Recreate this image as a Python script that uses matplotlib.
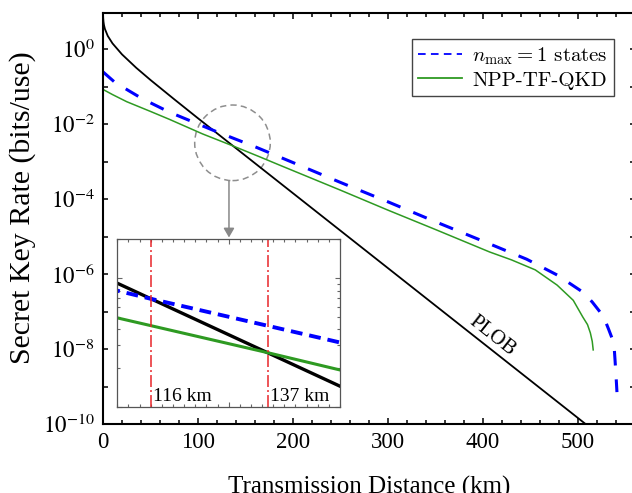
import matplotlib
matplotlib.use("Agg")
import numpy as np
import matplotlib.pyplot as plt
from matplotlib.lines import Line2D
from matplotlib.patches import Circle
from matplotlib.transforms import ScaledTranslation
from matplotlib.ticker import FixedLocator, MultipleLocator, NullLocator, NullFormatter, LogLocator

plt.rcParams["font.family"] = ["Liberation Serif", "DejaVu Serif"]
plt.rcParams["mathtext.fontset"] = "stix"
plt.rcParams["lines.scale_dashes"] = False

# values: distance (km), key rate (bits/use)
plob_km = [0.05, 0.2, 0.5, 1, 2, 5, 10, 20, 35, 50, 75, 100, 150, 200, 300, 400, 500, 530]
plob_rate = [8.76, 6.77, 5.46, 4.47, 3.51, 2.28, 1.44, 0.733, 0.321, 0.152, 4.64e-2,
             1.445e-2, 1.443e-3, 1.443e-4, 1.443e-6, 1.443e-8, 1.443e-10, 3.6e-11]

nmax1_km = [0, 12, 27, 42, 70, 116, 161, 200, 250, 300, 350, 400, 446, 478, 506,
            515, 522, 527, 532, 536, 538, 539, 540, 540.5, 541]
nmax1_rate = [2.5e-1, 1.35e-1, 7.9e-2, 4.7e-2, 2.1e-2, 6.9e-3, 2.45e-3, 9.5e-4, 2.8e-4,
              8.5e-5, 2.5e-5, 7.6e-6, 2.5e-6, 9.5e-7, 3.2e-7, 1.8e-7, 1.07e-7, 7.2e-8,
              3.5e-8, 1.9e-8, 1.2e-8, 5.0e-9, 2.0e-9, 1.2e-9, 7.1e-10]

npp_km = [0, 10, 25, 50, 70, 105, 137, 165, 186, 250, 300, 350, 407, 430, 455, 478, 495,
          505, 510, 513, 515, 516]
npp_rate = [8.5e-2, 6.2e-2, 4.0e-2, 2.2e-2, 1.35e-2, 5.5e-3, 2.63e-3, 1.35e-3, 8.1e-4,
            1.74e-4, 5.1e-5, 1.55e-5, 3.9e-6, 2.4e-6, 1.3e-6, 5.1e-7, 2.0e-7, 7.2e-8,
            4.5e-8, 2.7e-8, 1.6e-8, 9.5e-9]

cross_km = [116, 137]
cross_labels = ["116 km", "137 km"]

x_ticks = [0, 100, 200, 300, 400, 500]
y_ticks = [1e-10, 1e-9, 1e-8, 1e-7, 1e-6, 1e-5, 1e-4, 1e-3, 1e-2, 1e-1, 1e0]
y_tick_labels = [r"$10^{-10}$", "", r"$10^{-8}$", "", r"$10^{-6}$", "", r"$10^{-4}$", "",
                 r"$10^{-2}$", "", r"$10^{0}$"]

legend_labels = [r"$n_{\mathrm{max}} = 1$ states", "NPP-TF-QKD"]

GREEN = "#2e9a22"
RED = "#e8262a"
W, H = 632, 493


def main():
    fig = plt.figure(figsize=(W / 100, H / 100), dpi=100)
    ax = fig.add_axes([103 / W, (H - 424) / H, 532 / W, 411.3 / H])

    ax.plot(plob_km, plob_rate, color="black", lw=1.3)
    ax.plot(nmax1_km, nmax1_rate, color="blue", lw=2.2, dashes=(10.5, 10))
    ax.plot(npp_km, npp_rate, color=GREEN, lw=1.1)

    ax.set_yscale("log")
    ax.set_xlim(0, 560)
    ax.set_ylim(1e-10, 9.5)
    ax.set_xticks(x_ticks)
    ax.xaxis.set_minor_locator(MultipleLocator(20))
    ax.yaxis.set_major_locator(FixedLocator(y_ticks))
    ax.set_yticklabels(y_tick_labels)
    ax.yaxis.set_minor_locator(NullLocator())
    ax.tick_params(which="both", direction="in", top=True, right=True, width=1.1,
                   labelsize=16.5, color="black")
    ax.tick_params(axis="x", which="major", length=4.5, pad=6)
    ax.tick_params(axis="x", which="minor", length=2.6)
    ax.tick_params(axis="y", which="major", length=3.8, pad=6)
    for s in ax.spines.values():
        s.set_linewidth(1.5)

    fig.text(369 / W, 1 - 494 / H, "Transmission Distance (km)", fontsize=18,
             ha="center", va="baseline")
    fig.text(23 / W, 1 - 208 / H, "Secret Key Rate (bits/use)", fontsize=21.5,
             ha="center", va="center", rotation=90)

    # rotated PLOB label along the line
    p1 = ax.transData.transform((400, plob_rate[15]))
    p2 = ax.transData.transform((500, plob_rate[16]))
    ang = np.degrees(np.arctan2(p2[1] - p1[1], p2[0] - p1[0]))
    ax.text(410, 2.2e-8, "PLOB", fontsize=15, rotation=ang,
            ha="center", va="center", rotation_mode="anchor")

    # dashed circle around the crossing region and arrow to the inset
    circ = Circle((0, 0), 0.378, fill=False, ec="#8e8e8e", lw=1.1, ls=(0, (4.5, 3)),
                  transform=fig.dpi_scale_trans + ScaledTranslation(136.3, 3.2e-3, ax.transData))
    ax.add_patch(circ)
    ax.annotate("", xy=(132.6, 9.5e-6), xytext=(132.6, 3.05e-4),
                arrowprops=dict(arrowstyle="-|>,head_length=0.55,head_width=0.32",
                                color="#888888", lw=1.1, shrinkA=0, shrinkB=0,
                                mutation_scale=10))

    handles = [Line2D([], [], color="blue", lw=1.3, dashes=(5.5, 3.8)),
               Line2D([], [], color=GREEN, lw=1.3)]
    leg = fig.legend(handles, legend_labels, loc="upper left",
                     bbox_to_anchor=(412 / W, 1 - 39 / H),
                     prop=dict(family="cmr10", size=15, math_fontfamily="cm"),
                     frameon=True, fancybox=False, edgecolor="#444444", framealpha=1,
                     borderpad=0.3, borderaxespad=0, handlelength=2.1,
                     handletextpad=0.5, labelspacing=0.2)
    leg.get_frame().set_linewidth(1.0)

    # inset zoom on the crossing points
    axin = fig.add_axes([117.3 / W, (H - 406.7) / H, 222.7 / W, 167.4 / H])
    axin.plot(plob_km, plob_rate, color="black", lw=2.4)
    axin.plot(nmax1_km, nmax1_rate, color="blue", lw=2.8, dashes=(8.5, 5))
    axin.plot(npp_km, npp_rate, color=GREEN, lw=2.2)
    for k, lab in zip(cross_km, cross_labels):
        axin.axvline(k, color=RED, lw=1.1, dashes=(8.6, 2.2, 1.4, 2.2))
        axin.text(k + 0.4, 1.11e-3, lab, fontsize=14, ha="left", va="baseline")
    axin.set_yscale("log")
    axin.set_xlim(110, 150)
    axin.set_ylim(1e-3, 2e-2)
    axin.xaxis.set_major_locator(FixedLocator([130]))
    axin.xaxis.set_minor_locator(MultipleLocator(2))
    axin.yaxis.set_major_locator(LogLocator(base=10))
    axin.yaxis.set_minor_locator(LogLocator(base=10, subs=np.arange(2, 10)))
    axin.yaxis.set_minor_formatter(NullFormatter())
    axin.tick_params(which="both", direction="in", top=True, right=True, color="#666666",
                     width=0.8, labelleft=False, labelbottom=False)
    axin.tick_params(which="major", length=3.5)
    axin.tick_params(which="minor", length=2)
    for s in axin.spines.values():
        s.set_linewidth(0.9)
        s.set_color("#555555")

    fig.savefig("out.png", dpi=100)
    plt.close(fig)


if __name__ == "__main__":
    main()
